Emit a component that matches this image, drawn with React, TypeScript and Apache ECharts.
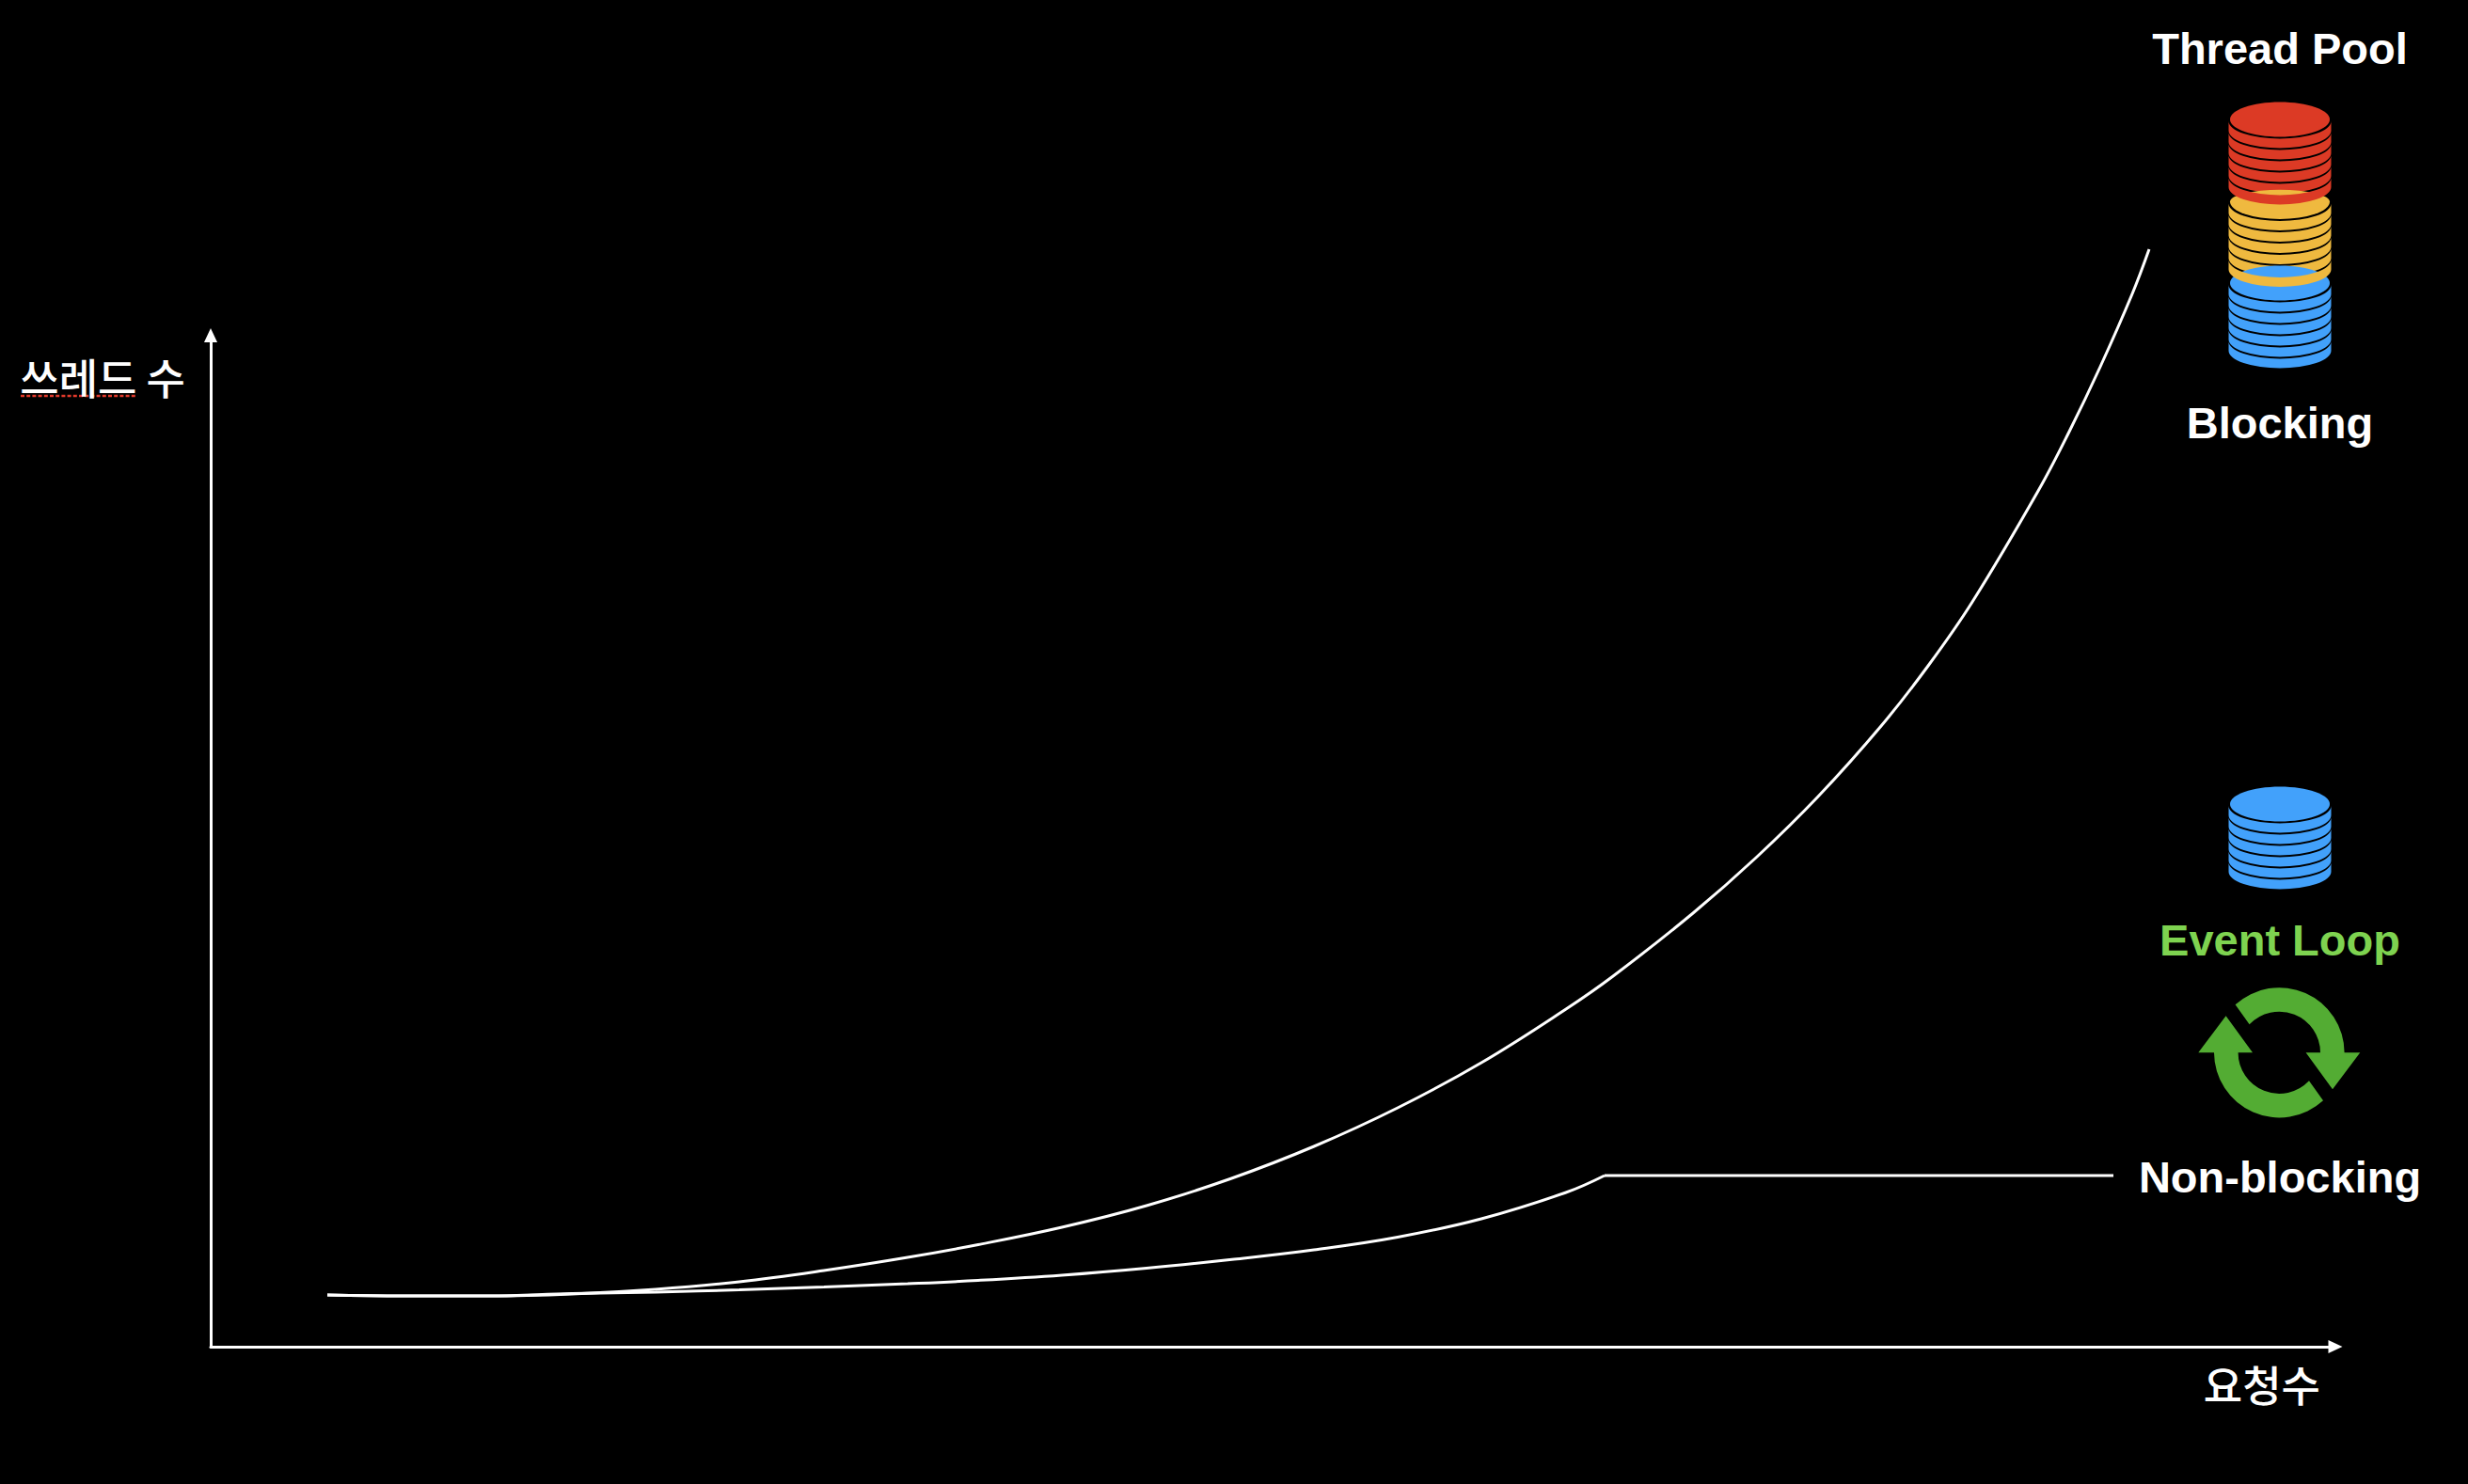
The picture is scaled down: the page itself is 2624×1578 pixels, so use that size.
import React, { useEffect, useRef } from "react";
import * as echarts from "echarts";

// Chart text
const xAxisName = "요청수";
const yAxisName = "쓰레드 수";
const titleTop = "Thread Pool";
const labelBlocking = "Blocking";
const labelEventLoop = "Event Loop";
const labelNonBlocking = "Non-blocking";

// Values (arbitrary units: the chart has no scale)
const blockingX = [124, 205, 295, 384, 473, 562, 652, 741, 816, 905, 995, 1084, 1173, 1262, 1351, 1441, 1491, 1576, 1643, 1709, 1776, 1826, 1873, 1943, 1976, 2009, 2043, 2061];
const blockingY = [55, 54, 54, 56, 61, 69, 81, 95, 108.5, 127, 150, 178.5, 213, 254, 302, 359, 394, 461, 520, 585, 660, 724, 792, 910, 973, 1042, 1119.5, 1167];
const nonBlockingX = [124, 205, 295, 384, 473, 562, 652, 741, 816, 905, 995, 1088, 1173, 1262, 1351, 1441, 1482];
const nonBlockingY = [55, 54, 54, 56.5, 58, 60.5, 63.5, 67, 70.5, 76, 83.5, 93, 103, 116.5, 136, 164, 182];
const plateauX = [1482, 2023];
const plateauY = [182, 182];
const axisMaxX = 2259;
const axisMaxY = 1075.5;

const RED = "#DC3A25";
const YELLOW = "#EFB93F";
const BLUE = "#42A1FB";
const GREEN = "#53AC33";
const EVENT_GREEN = "#7ED350";

echarts.graphic.registerShape(
  "crescent",
  echarts.graphic.extendPath(
    "M -54.5 0 A 54.5 18.5 0 0 0 54.5 0 L 54.5 -10 A 54.5 18.5 0 0 1 -54.5 -10 Z",
    {}
  )
);
echarts.graphic.registerShape(
  "flatTop",
  echarts.graphic.extendPath(
    "M -53 0 A 53 12.8 0 0 1 53 0 A 53 18.5 0 0 1 -53 0 Z",
    {}
  )
);
echarts.graphic.registerShape(
  "cycleArrow",
  echarts.graphic.extendPath(
    "M -46.7 -51 A 69.3 69.3 0 0 1 69.3 0 L 86 0 L 56.7 39 L 28.3 0 L 43.7 0 A 43.7 43.7 0 0 0 -31.7 -30 Z",
    {}
  )
);

const CX = 2424;
const STEP = 12;

function disc(color: string, cy: number, i: number) {
  if (i === 0) {
    return { type: "ellipse", shape: { cx: CX, cy, rx: 53, ry: 18.5 }, style: { fill: color }, silent: true };
  }
  return { type: "crescent", x: CX, y: cy + i * STEP, style: { fill: color }, silent: true };
}
const discs = (color: string, cy: number, from: number, to: number) => {
  const out: any[] = [];
  for (let i = from; i <= to; i++) out.push(disc(color, cy, i));
  return out;
};

function label(text: string, y: number, fill = "#fff") {
  return {
    type: "text",
    x: CX,
    y,
    silent: true,
    style: {
      text,
      fill,
      font: 'bold 47px "Liberation Sans", Arial, sans-serif',
      textAlign: "center",
      textVerticalAlign: "middle",
    },
  };
}

const RED_C = 127;
const YEL_C = 214.5;
const BLU_C = 301;
const SINGLE_C = 855;

export default function App() {
  const ref = useRef<HTMLDivElement>(null);
  useEffect(() => {
    document.body.style.margin = "0";
    document.body.style.background = "#000";
    const chart = echarts.init(ref.current!, undefined, { renderer: "svg" });
    const nameStyle = {
      color: "#fff",
      fontFamily: '"Noto Sans CJK KR"',
      fontWeight: 500,
      fontSize: 45,
    };
    const axisBase = {
      type: "value",
      min: 0,
      splitLine: { show: false },
      axisTick: { show: false },
      axisLabel: { show: false },
      axisLine: {
        show: true,
        onZero: false,
        symbol: ["none", "triangle"],
        symbolSize: [14, 15],
        lineStyle: { color: "#fff", width: 3 },
      },
    };
    const lineBase = {
      type: "line",
      clip: false,
      showSymbol: false,
      smooth: 0.4,
    };
    const curveStyle = { color: "#fff", width: 3, cap: "butt" };
    chart.setOption({
      animation: false,
      backgroundColor: "#000",
      grid: { left: 224, top: 356.5, width: axisMaxX, height: axisMaxY },
      xAxis: {
        ...axisBase,
        max: axisMaxX,
        name: xAxisName,
        nameLocation: "end",
        nameGap: -16,
        nameTextStyle: { ...nameStyle, align: "right", verticalAlign: "top", padding: [17, 0, 0, 0] },
      },
      yAxis: {
        ...axisBase,
        max: axisMaxY,
        name: yAxisName,
        nameLocation: "end",
        nameGap: -44,
        nameTextStyle: { ...nameStyle, align: "right", verticalAlign: "middle", padding: [0, 27, 0, 0] },
      },
      series: [
        {
          ...lineBase,
          name: labelBlocking,
          data: blockingX.map((x, i) => [x, blockingY[i]]),
          lineStyle: curveStyle,
        },
        {
          ...lineBase,
          name: labelNonBlocking,
          data: nonBlockingX.map((x, i) => [x, nonBlockingY[i]]),
          lineStyle: curveStyle,
        },
        {
          ...lineBase,
          smooth: false,
          name: labelNonBlocking,
          data: plateauX.map((x, i) => [x, plateauY[i]]),
          lineStyle: curveStyle,
        },
      ],
      graphic: {
        elements: [
          label(titleTop, 51.5),
          label(labelBlocking, 449),
          label(labelEventLoop, 999, EVENT_GREEN),
          label(labelNonBlocking, 1251),
          ...discs(RED, RED_C, 0, 5),
          { type: "flatTop", x: CX, y: YEL_C, silent: true, style: { fill: YELLOW } },
          ...discs(YELLOW, YEL_C, 1, 5),
          ...discs(BLUE, BLU_C, 0, 6),
          ...discs(YELLOW, YEL_C, 6, 6),
          ...discs(RED, RED_C, 6, 6),
          ...discs(BLUE, SINGLE_C, 0, 6),
          { type: "cycleArrow", x: 2423.3, y: 1119.3, silent: true, style: { fill: GREEN } },
          { type: "cycleArrow", x: 2423.3, y: 1119.3, rotation: Math.PI, silent: true, style: { fill: GREEN } },
          {
            type: "line",
            silent: true,
            shape: { x1: 22, y1: 421, x2: 145, y2: 421 },
            style: { stroke: "#E0392B", lineWidth: 2.5, lineDash: [4, 2.2] },
          },
        ],
      },
    });
    return () => chart.dispose();
  }, []);
  return (
    <div
      ref={ref}
      style={{ position: "fixed", left: 0, top: 0, width: 2624, height: 1578, background: "#000" }}
    />
  );
}
